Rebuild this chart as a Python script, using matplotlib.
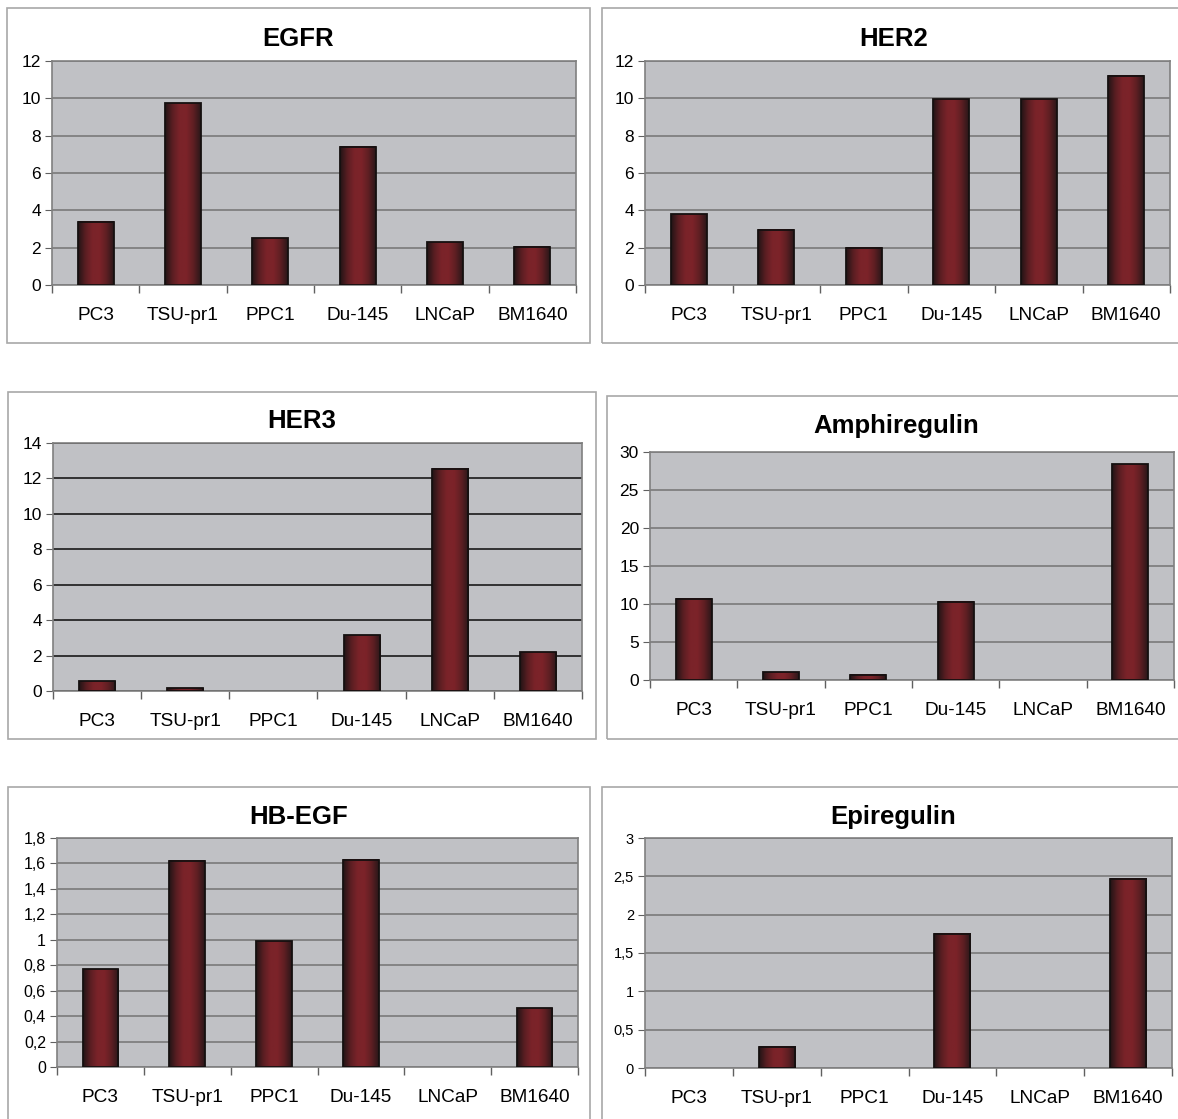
import numpy as np
import matplotlib.pyplot as plt
from matplotlib.patches import Rectangle
from matplotlib.colors import LinearSegmentedColormap
from matplotlib.ticker import FuncFormatter, FixedLocator

plt.rcParams['font.family'] = ['Liberation Sans', 'DejaVu Sans']

cell_lines = ['PC3', 'TSU-pr1', 'PPC1', 'Du-145', 'LNCaP', 'BM1640']

egfr = [3.4, 9.75, 2.5, 7.4, 2.3, 2.05]
her2 = [3.8, 2.95, 2.0, 9.95, 9.95, 11.2]
her3 = [0.55, 0.15, 0.0, 3.15, 12.55, 2.2]
amphiregulin = [10.7, 1.0, 0.7, 10.3, 0.0, 28.4]
hb_egf = [0.77, 1.62, 0.99, 1.63, 0.0, 0.46]
epiregulin = [0.0, 0.28, 0.0, 1.75, 0.0, 2.47]

W, H = 1178, 1119
fig = plt.figure(figsize=(W / 100, H / 100), dpi=100)

bar_cmap = LinearSegmentedColormap.from_list(
    'bar', ['#221416', '#5a1e22', '#7a2329', '#7c2329', '#5e1f23', '#2a1719'])
grad = np.linspace(0, 1, 64).reshape(1, -1)


def comma_fmt(v, pos):
    return ('%g' % v).replace('.', ',')


# (title, values, ymax, step, box px (l, t, r, b), plot px (l, t, r, b), title y px, grid colour, tick size)
panels = [
    ('EGFR', egfr, 12, 2, (7, 8, 590, 343), (52, 61, 576, 285), 39, '#7a7a7a', 12.5),
    ('HER2', her2, 12, 2, (602, 8, 1185, 343), (645, 61, 1170, 285), 39, '#7a7a7a', 12.5),
    ('HER3', her3, 14, 2, (8, 392, 596, 739), (53, 443, 582, 691), 421, '#1a1a1a', 12.5),
    ('Amphiregulin', amphiregulin, 30, 5, (607, 396, 1185, 739), (650, 452, 1174, 680), 426, '#7a7a7a', 12.5),
    ('HB-EGF', hb_egf, 1.8, 0.2, (8, 787, 590, 1125), (57, 838, 578, 1067), 817, '#7a7a7a', 11.5),
    ('Epiregulin', epiregulin, 3, 0.5, (602, 787, 1185, 1125), (645, 838, 1172, 1068), 817, '#7a7a7a', 10.5),
]

for title, vals, ymax, step, box, plot, ty, gcol, tsize in panels:
    bl, bt, br, bb = box
    fig.patches.append(Rectangle((bl / W, 1 - bb / H), (br - bl) / W, (bb - bt) / H,
                                 transform=fig.transFigure, fill=False,
                                 edgecolor='#a8a8a8', lw=1.2))
    fig.text((bl + br) / 2 / W, 1 - ty / H, title, fontsize=18.5, fontweight='bold',
             ha='center', va='center')
    pl, pt, pr, pb = plot
    ax = fig.add_axes([pl / W, 1 - pb / H, (pr - pl) / W, (pb - pt) / H])
    ax.set_facecolor('#c0c1c5')
    x = np.arange(len(cell_lines))
    v = np.array(vals)
    nz = v > 0
    bars = ax.bar(x[nz], v[nz], width=0.41, color='none', edgecolor='#151010', lw=1.3, zorder=4)
    for b in bars:
        x0, w, h = b.get_x(), b.get_width(), b.get_height()
        ax.imshow(grad, cmap=bar_cmap, aspect='auto', extent=[x0, x0 + w, 0, h],
                  zorder=3, interpolation='bilinear')
    ax.set_xlim(-0.5, len(cell_lines) - 0.5)
    ax.set_ylim(0, ymax)
    yt = np.round(np.arange(0, ymax + step / 2, step), 3)
    ax.set_yticks(yt)
    ax.yaxis.set_major_formatter(FuncFormatter(comma_fmt))
    ax.yaxis.grid(True, color=gcol, lw=1.2)
    ax.set_axisbelow(True)
    ax.set_xticks(x)
    ax.set_xticklabels(cell_lines, fontsize=13.7)
    ax.xaxis.set_minor_locator(FixedLocator(np.arange(-0.5, len(cell_lines), 1)))
    ax.tick_params(axis='x', which='major', length=0, pad=16)
    ax.tick_params(axis='x', which='minor', length=6, color='#606060', width=1)
    ax.tick_params(axis='y', length=5, color='#606060', labelsize=tsize, pad=3)
    for s in ax.spines.values():
        s.set_color('#808080')
        s.set_linewidth(1.2)

fig.savefig('out.png', dpi=100, facecolor='white')
